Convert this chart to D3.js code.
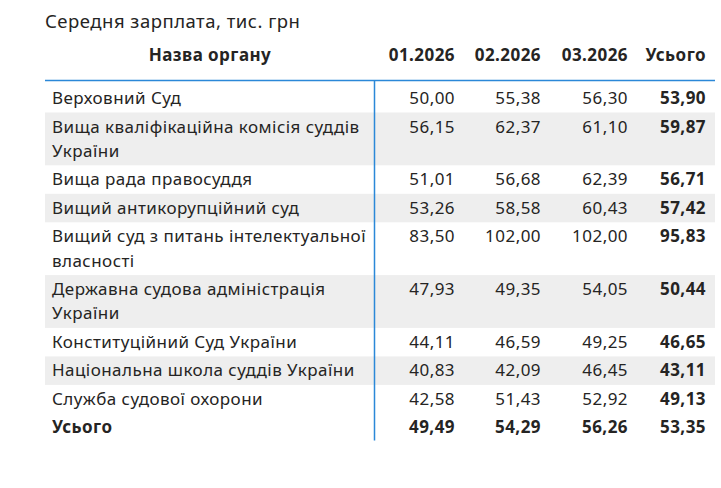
<!DOCTYPE html>
<html><head><meta charset="utf-8">
<script src="https://cdn.jsdelivr.net/npm/d3@7"></script>
<style>body{margin:0;background:#fff}</style></head>
<body><svg id="c" width="721" height="488"></svg>
<script>
const title = "Середня зарплата, тис. грн";
const columns = ["Назва органу","01.2026","02.2026","03.2026","Усього"];
const names = [
 ["Верховний Суд"],
 ["Вища кваліфікаційна комісія суддів","України"],
 ["Вища рада правосуддя"],
 ["Вищий антикорупційний суд"],
 ["Вищий суд з питань інтелектуальної","власності"],
 ["Державна судова адміністрація","України"],
 ["Конституційний Суд України"],
 ["Національна школа суддів України"],
 ["Служба судової охорони"]
];
const m01 = [50.00,56.15,51.01,53.26,83.50,47.93,44.11,40.83,42.58];
const m02 = [55.38,62.37,56.68,58.58,102.00,49.35,46.59,42.09,51.43];
const m03 = [56.30,61.10,62.39,60.43,102.00,54.05,49.25,46.45,52.92];
const totals = [53.90,59.87,56.71,57.42,95.83,50.44,46.65,43.11,49.13];
const totalLabel = "Усього";
const totalRow = [49.49,54.29,56.26,53.35];

const svg = d3.select("#c");
const font = "'Noto Sans', 'Open Sans', sans-serif";
const fs = 17, ls = 0.45;
const fmt = v => d3.format(".2f")(v).replace(".", ",");
const left = 45, right = 715;
const colRight = [455, 541, 628, 706];
const T = (sel,x,y,t,anchor,bold)=>sel.append("text").attr("x",x).attr("y",y).attr("text-anchor",anchor||"start")
  .attr("font-family",font).attr("font-size",fs).attr("letter-spacing",ls).attr("font-weight",bold?"bold":"normal").attr("fill","#252423").text(t);
svg.append("text").attr("x",left).attr("y",28).attr("font-family",font).attr("font-size",18.5).attr("letter-spacing",0.5).attr("fill","#252423").text(title);
T(svg,210,61,columns[0],"middle",true);
columns.slice(1).forEach((c,i)=>T(svg,colRight[i],61,c,"end",true));

const singleH = 28.5, lineH = 24.3;
let y = 84;
const rows = names.map((n,i)=>{const h = n.length>1 ? singleH+lineH : singleH; const r={n,i,y,h}; y+=h; return r;});
const g = svg.selectAll("g.row").data(rows).join("g");
g.filter(d=>d.i%2==1).append("rect").attr("x",left).attr("y",d=>d.y).attr("width",right-left).attr("height",d=>d.h).attr("fill","#eeeeee");
g.each(function(d){
  const s=d3.select(this);
  d.n.forEach((t,k)=>T(s,52,d.y+20+k*lineH,t));
  [m01[d.i],m02[d.i],m03[d.i],totals[d.i]].forEach((v,k)=>T(s,colRight[k],d.y+20,fmt(v),"end",k==3));
});
T(svg,52,y+20,totalLabel,"start",true);
totalRow.forEach((v,k)=>T(svg,colRight[k],y+20,fmt(v),"end",true));
svg.append("line").attr("x1",left).attr("x2",right).attr("y1",80.5).attr("y2",80.5).attr("stroke","#2b88d8").attr("stroke-width",1.5);
svg.append("line").attr("x1",374.5).attr("x2",374.5).attr("y1",80).attr("y2",y+27).attr("stroke","#2b88d8").attr("stroke-width",1.5);
</script></body></html>
